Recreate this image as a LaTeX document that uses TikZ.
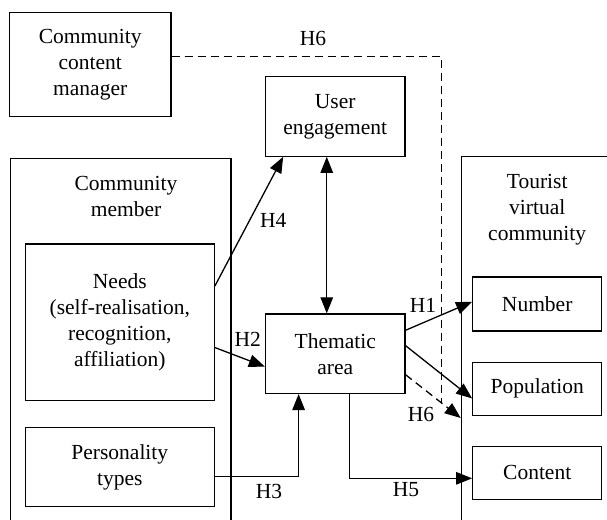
\documentclass[tikz,border=0pt]{standalone}
\usepackage{fontspec}
\setmainfont{Liberation Serif}
\usetikzlibrary{arrows.meta, calc, positioning}
\newcommand{\tvfont}{\fontsize{21.5}{26}\selectfont}
\tikzset{
  tvarrow/.style={->, >={Triangle[length=16pt, width=12.5pt]}, line width=1.3pt},
  tvboth/.style={tvarrow, <->},
  tvdashed/.style={tvarrow, dash pattern=on 8pt off 5pt},
  tvbox/.style={rectangle, draw, line width=1.2pt, align=center, font=\tvfont, inner sep=2pt},
  tvgroup/.style={rectangle, draw, line width=1.2pt, inner sep=0pt, anchor=north west},
  tvtext/.style={align=center, font=\tvfont, inner sep=1pt},
}

\begin{document}
\begin{tikzpicture}[x=1pt, y=1pt]
  \useasboundingbox (0,0) rectangle (607,519);
  \clip (0,0) rectangle (607,519);

  % Outer groups (they run past the lower and right edges).
  \node[tvgroup, minimum width=220.6pt, minimum height=400pt] (member) at (9.7,361) {};
  \node[tvtext] (memberlbl) at (126,322.5) {Community\\member};
  \node[tvgroup, minimum width=200pt, minimum height=400pt] (tourist) at (460.7,363.3) {};
  \node[tvtext] (touristlbl) at (537.2,309) {Tourist\\virtual\\community};

  % Antecedents.
  \node[tvbox, minimum width=161.5pt, minimum height=104pt] (ccm) at (90.2,454.3) {Community\\content\\manager};
  \node[tvbox, minimum width=189pt, minimum height=156.7pt] (needs) at (119.8,196.7) {Needs\\(self-realisation,\\recognition,\\affiliation)};
  \node[tvbox, minimum width=189pt, minimum height=78.6pt, below=26pt of needs] (pers) {Personality\\types};

  % Mediators.
  \node[tvbox, minimum width=139.5pt, minimum height=79.5pt] (ue) at (335.2,402.5) {User\\engagement};
  \node[tvbox, minimum width=139.5pt, minimum height=79.5pt, below=156.5pt of ue] (theme) {Thematic\\area};

  % Outcomes.
  \node[tvbox, minimum width=129pt, minimum height=54pt] (number) at (537.2,215) {Number};
  \node[tvbox, minimum width=129pt, minimum height=53pt, below=30pt of number] (pop) {Population};
  \node[tvbox, minimum width=129pt, minimum height=53pt, below=30pt of pop] (content) {Content};

  % Edge end points.
  \coordinate (h4start) at ($(needs.north east)!0.27!(needs.south east)$);
  \coordinate (h4end) at ($(ue.south west)!0.13!(ue.south east)$);
  \coordinate (h2start) at ($(needs.north east)!0.66!(needs.south east)$);
  \coordinate (h2end) at ($(theme.north west)!0.66!(theme.south west)$);
  \coordinate (uetheme) at ($(ue.south west)!0.44!(ue.south east)$);
  \coordinate (h3start) at ($(pers.north east)!0.62!(pers.south east)$);
  \coordinate (h3end) at ($(theme.south west)!0.24!(theme.south east)$);
  \coordinate (h5start) at ($(theme.south west)!0.6!(theme.south east)$);
  \coordinate (h5end) at ($(content.north west)!0.6!(content.south west)$);
  \coordinate (h1start) at ($(theme.north east)!0.21!(theme.south east)$);
  \coordinate (h1end) at ($(number.north west)!0.46!(number.south west)$);
  \coordinate (popstart) at ($(theme.north east)!0.4!(theme.south east)$);
  \coordinate (popend) at ($(pop.north west)!0.68!(pop.south west)$);
  \coordinate (h6start) at ($(theme.north east)!0.76!(theme.south east)$);
  \coordinate (h6end) at ($(tourist.north west)+(0,-262.3)$);
  \coordinate (h6meet) at ($(h6start)!0.646!(h6end)$);
  \coordinate (ccmout) at ($(ccm.north east)!0.42!(ccm.south east)$);
  \coordinate (h6turn) at (ccmout -| h6meet);

  % Edges.
  \draw[tvarrow] (h4start) -- (h4end);
  \draw[tvarrow] (h2start) -- (h2end);
  \draw[tvboth] (uetheme) -- (uetheme |- theme.north);
  \draw[tvarrow] (h3start) -| (h3end);
  \draw[tvarrow] (h5start) |- (h5end);
  \draw[tvarrow] (h1start) -- (h1end);
  \draw[tvarrow] (popstart) -- (popend);
  \draw[tvdashed] (h6start) -- (h6end);
  \draw[tvdashed, -] (ccmout) -- (h6turn) -- (h6meet);

  % Hypothesis labels.
  \node[tvtext] (h6top) at (313,481) {H6};
  \node[tvtext] (h4) at (273.3,299) {H4};
  \node[tvtext] (h2) at (247.7,180) {H2};
  \node[tvtext] (h3) at (269,27.3) {H3};
  \node[tvtext] (h5) at (406,29) {H5};
  \node[tvtext] (h1) at (423,214) {H1};
  \node[tvtext] (h6low) at (421,105) {H6};
\end{tikzpicture}
\end{document}
